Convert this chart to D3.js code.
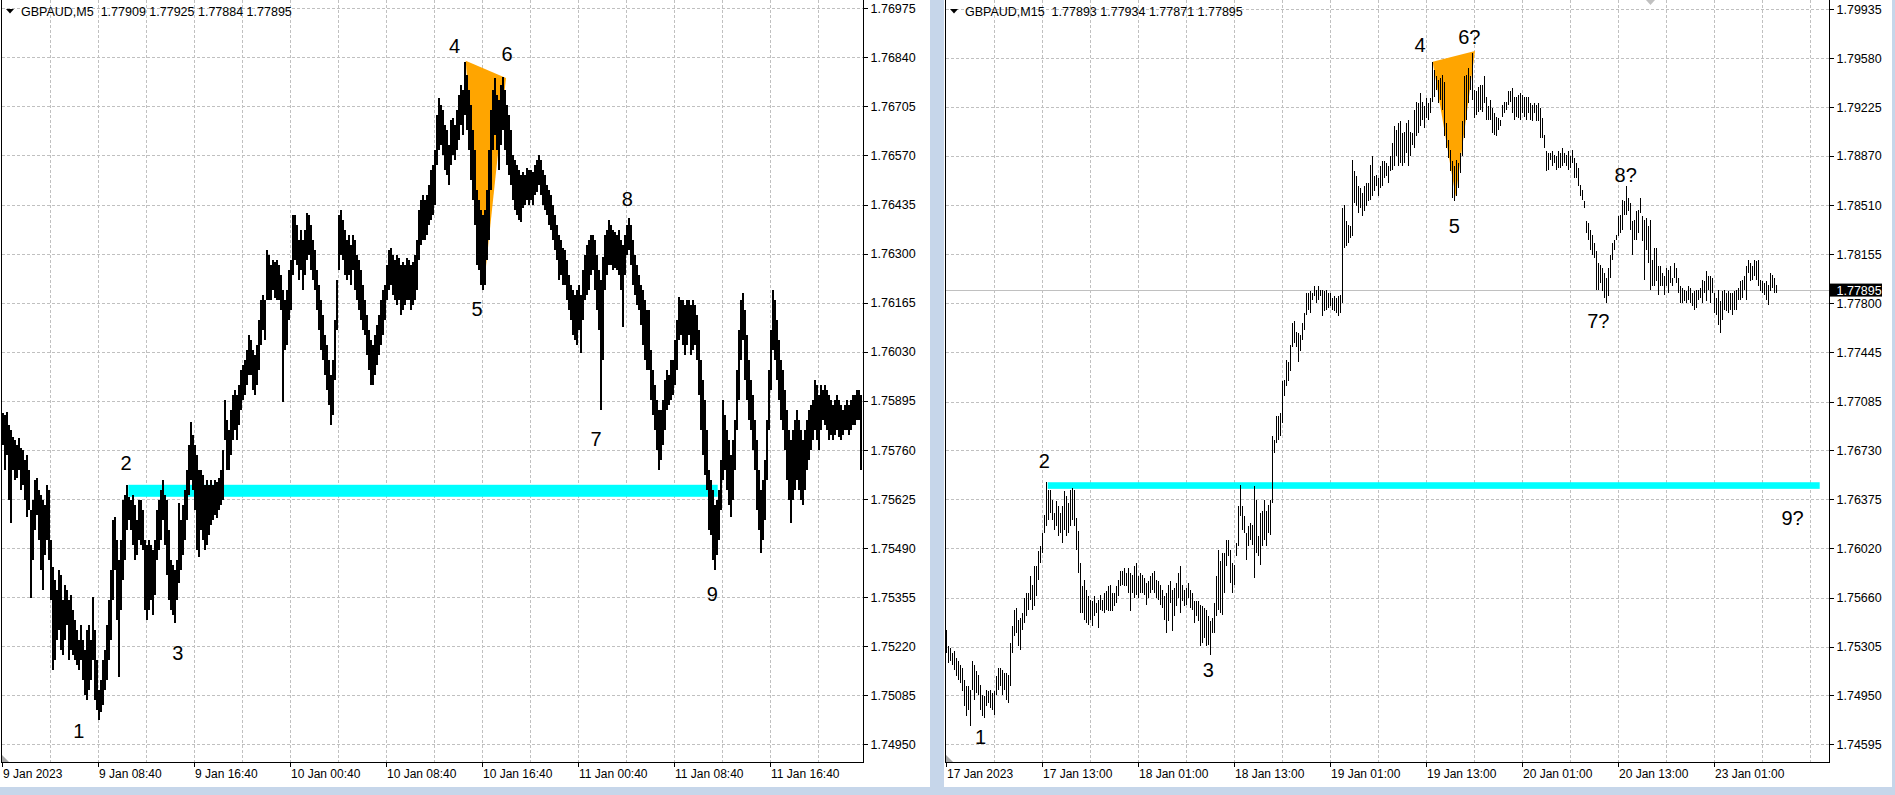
<!DOCTYPE html>
<html><head><meta charset="utf-8">
<script src="https://cdn.jsdelivr.net/npm/d3@7"></script>
<style>html,body{margin:0;padding:0;background:#c6d6ea;overflow:hidden}</style>
</head><body><svg id="c" width="1895" height="795"></svg>
<script>
// ---------- LEFT PANEL (GBPAUD M5, sampled bars) ----------
const m5High = [
1.75862,1.75856,1.75865,1.75829,1.75815,1.75796,1.75788,1.75774,1.75793,1.75766,1.75760,1.75733,1.75746,1.75705,1.75595,1.75623,1.75678,1.75683,1.75650,1.75636,1.75623,1.75609,1.75664,1.75650,
1.75513,1.75438,1.75403,1.75375,1.75430,1.75416,1.75348,1.75389,1.75375,1.75348,1.75361,1.75320,1.75293,1.75265,1.75238,1.75279,1.75238,1.75210,1.75265,1.75279,1.75238,1.75356,1.75265,1.75183,
1.75100,1.75128,1.75183,1.75210,1.75279,1.75348,1.75430,1.75568,1.75576,1.75513,1.75458,1.75513,1.75623,1.75636,1.75664,1.75631,1.75623,1.75636,1.75609,1.75568,1.75623,1.75623,1.75595,
1.75513,1.75499,1.75513,1.75499,1.75485,1.75513,1.75595,1.75623,1.75650,1.75678,1.75636,1.75623,1.75540,1.75458,1.75444,1.75430,1.75458,1.75614,1.75568,1.75609,1.75650,1.75705,1.75774,1.75837,1.75801,
1.75774,1.75746,1.75705,1.75705,1.75691,1.75664,1.75678,1.75664,1.75678,1.75664,1.75678,1.75672,1.75683,1.75705,1.75760,1.75898,1.75843,1.75815,1.75870,1.75911,1.75925,1.75911,1.75939,1.75980,
1.75994,1.76008,1.76035,1.76076,1.76063,1.76035,1.76021,1.76049,1.76118,1.76173,1.76186,1.76173,1.76310,1.76296,1.76269,1.76283,1.76277,1.76283,1.76269,1.76241,1.76200,1.76173,1.76200,1.76255,
1.76283,1.76406,1.76406,1.76379,1.76338,1.76365,1.76338,1.76365,1.76412,1.76406,1.76379,1.76338,1.76310,1.76255,1.76214,1.76173,1.76131,1.76076,1.76049,1.76008,1.75966,1.76008,1.76118,1.76228,
1.76406,1.76420,1.76393,1.76365,1.76338,1.76351,1.76324,1.76351,1.76338,1.76296,1.76283,1.76255,1.76214,1.76173,1.76131,1.76090,1.76063,1.76049,1.76076,1.76104,1.76131,1.76173,1.76200,1.76214,
1.76269,1.76310,1.76316,1.76296,1.76283,1.76296,1.76288,1.76269,1.76277,1.76269,1.76288,1.76283,1.76269,1.76277,1.76296,1.76338,1.76420,1.76448,1.76462,1.76448,1.76462,1.76489,1.76530,1.76544,
1.76585,1.76682,1.76728,1.76709,1.76695,1.76654,1.76640,1.76599,1.76668,1.76673,1.76654,1.76695,1.76737,1.76764,1.76750,1.76827,1.76792,1.76750,1.76709,1.76640,1.76585,1.76475,1.76448,1.76420,
1.76406,1.76420,1.76475,1.76585,1.76695,1.76750,1.76783,1.76737,1.76723,1.76764,1.76786,1.76750,1.76709,1.76682,1.76640,1.76572,1.76558,1.76544,1.76530,1.76517,1.76525,1.76517,1.76536,1.76530,
1.76530,1.76525,1.76544,1.76558,1.76572,1.76558,1.76530,1.76517,1.76489,1.76475,1.76462,1.76434,1.76406,1.76379,1.76351,1.76338,1.76316,1.76310,1.76283,1.76241,1.76214,1.76200,1.76186,1.76200,
1.76214,1.76186,1.76255,1.76296,1.76324,1.76338,1.76351,1.76351,1.76338,1.76296,1.76255,1.76228,1.76291,1.76351,1.76365,1.76393,1.76379,1.76365,1.76360,1.76351,1.76365,1.76338,1.76324,1.76351,
1.76379,1.76398,1.76379,1.76338,1.76296,1.76269,1.76241,1.76214,1.76200,1.76173,1.76145,1.76145,1.76035,1.75980,1.75939,1.75898,1.75870,1.75870,1.75898,1.75953,1.75980,1.75966,1.76008,1.76008,
1.76063,1.76118,1.76181,1.76173,1.76173,1.76159,1.76173,1.76173,1.76159,1.76173,1.76159,1.76131,1.76090,1.76008,1.75953,1.75898,1.75815,1.75705,1.75678,1.75650,1.75609,1.75623,1.75650,1.75733,
1.75898,1.75856,1.75815,1.75788,1.75746,1.75788,1.75843,1.75980,1.76090,1.76173,1.76192,1.76145,1.76076,1.76008,1.75953,1.75911,1.75843,1.75788,1.75705,1.75650,1.75678,1.75733,1.75843,1.75980,
1.76090,1.76200,1.76173,1.76118,1.76063,1.76008,1.75980,1.75925,1.75870,1.75815,1.75788,1.75815,1.75843,1.75870,1.75843,1.75815,1.75788,1.75815,1.75843,1.75870,1.75884,1.75898,1.75953,1.75939,
1.75911,1.75939,1.75925,1.75939,1.75925,1.75911,1.75898,1.75884,1.75898,1.75911,1.75898,1.75884,1.75870,1.75884,1.75898,1.75884,1.75898,1.75911,1.75911,1.75925,1.75925,1.75911];
const m5Low = [
1.75774,1.75705,1.75746,1.75623,1.75559,1.75705,1.75678,1.75683,1.75705,1.75650,1.75664,1.75623,1.75576,1.75595,1.75353,1.75458,1.75540,1.75581,1.75513,1.75430,1.75375,1.75471,1.75513,1.75458,
1.75348,1.75155,1.75183,1.75238,1.75265,1.75210,1.75196,1.75238,1.75279,1.75183,1.75210,1.75196,1.75183,1.75169,1.75155,1.75183,1.75128,1.75086,1.75073,1.75100,1.75128,1.75183,1.75073,1.75045,
1.75018,1.75039,1.75059,1.75100,1.75128,1.75183,1.75238,1.75348,1.75430,1.75293,1.75136,1.75320,1.75403,1.75458,1.75540,1.75568,1.75540,1.75499,1.75458,1.75471,1.75513,1.75499,1.75485,
1.75320,1.75293,1.75320,1.75348,1.75306,1.75361,1.75458,1.75485,1.75513,1.75568,1.75499,1.75416,1.75348,1.75320,1.75306,1.75284,1.75348,1.75394,1.75430,1.75471,1.75513,1.75568,1.75636,1.75678,1.75650,
1.75595,1.75485,1.75466,1.75540,1.75513,1.75485,1.75499,1.75526,1.75554,1.75568,1.75581,1.75573,1.75595,1.75609,1.75623,1.75788,1.75705,1.75705,1.75746,1.75788,1.75815,1.75788,1.75829,1.75870,
1.75898,1.75911,1.75939,1.75966,1.75966,1.75925,1.75911,1.75939,1.75980,1.76049,1.76090,1.76063,1.76173,1.76173,1.76173,1.76200,1.76178,1.76173,1.76173,1.76145,1.75892,1.76035,1.76049,1.76118,
1.76145,1.76241,1.76283,1.76269,1.76228,1.76255,1.76200,1.76241,1.76283,1.76296,1.76255,1.76228,1.76200,1.76145,1.76090,1.76035,1.76008,1.75966,1.75925,1.75884,1.75829,1.75856,1.75953,1.76090,
1.76255,1.76296,1.76283,1.76241,1.76228,1.76241,1.76214,1.76255,1.76200,1.76173,1.76145,1.76118,1.76090,1.76076,1.76021,1.75980,1.75939,1.75939,1.75966,1.75994,1.76021,1.76049,1.76076,1.76118,
1.76173,1.76200,1.76214,1.76186,1.76173,1.76159,1.76173,1.76131,1.76145,1.76159,1.76173,1.76173,1.76145,1.76159,1.76173,1.76200,1.76283,1.76324,1.76338,1.76338,1.76351,1.76379,1.76393,1.76406,
1.76434,1.76544,1.76585,1.76599,1.76572,1.76530,1.76517,1.76489,1.76544,1.76572,1.76558,1.76585,1.76613,1.76654,1.76627,1.76682,1.76640,1.76585,1.76503,1.76448,1.76379,1.76269,1.76255,1.76214,
1.76200,1.76214,1.76283,1.76338,1.76475,1.76585,1.76627,1.76585,1.76530,1.76599,1.76640,1.76585,1.76544,1.76517,1.76489,1.76448,1.76420,1.76406,1.76393,1.76387,1.76426,1.76434,1.76448,1.76434,
1.76448,1.76434,1.76462,1.76470,1.76489,1.76462,1.76434,1.76420,1.76406,1.76379,1.76365,1.76338,1.76310,1.76283,1.76228,1.76241,1.76214,1.76214,1.76173,1.76145,1.76118,1.76076,1.76063,1.76049,
1.76090,1.76027,1.76118,1.76173,1.76186,1.76200,1.76241,1.76255,1.76200,1.76145,1.76090,1.75870,1.76008,1.76200,1.76241,1.76269,1.76269,1.76255,1.76261,1.76255,1.76241,1.76200,1.76098,1.76241,
1.76296,1.76310,1.76269,1.76214,1.76186,1.76159,1.76145,1.76104,1.76049,1.76008,1.75980,1.75980,1.75898,1.75856,1.75815,1.75760,1.75705,1.75733,1.75774,1.75815,1.75870,1.75884,1.75898,1.75911,
1.75939,1.75980,1.76063,1.76076,1.76049,1.76021,1.76049,1.76076,1.76021,1.76035,1.76049,1.76008,1.75911,1.75815,1.75746,1.75691,1.75650,1.75540,1.75526,1.75458,1.75430,1.75471,1.75513,1.75595,
1.75678,1.75705,1.75650,1.75609,1.75576,1.75623,1.75705,1.75815,1.75898,1.76008,1.76063,1.75953,1.75898,1.75843,1.75815,1.75760,1.75705,1.75595,1.75540,1.75477,1.75513,1.75568,1.75678,1.75815,
1.75925,1.76035,1.76008,1.75953,1.75898,1.75843,1.75815,1.75760,1.75678,1.75623,1.75559,1.75623,1.75650,1.75678,1.75650,1.75623,1.75609,1.75650,1.75705,1.75733,1.75760,1.75788,1.75815,1.75788,
1.75760,1.75815,1.75843,1.75829,1.75815,1.75788,1.75801,1.75788,1.75801,1.75815,1.75796,1.75788,1.75801,1.75815,1.75815,1.75801,1.75815,1.75829,1.75829,1.75843,1.75843,1.75705];
const m5PriceTicks = [1.76975,1.76840,1.76705,1.76570,1.76435,1.76300,1.76165,1.76030,1.75895,1.75760,1.75625,1.75490,1.75355,1.75220,1.75085,1.74950];
const m5TimeLabels = ["9 Jan 2023","9 Jan 08:40","9 Jan 16:40","10 Jan 00:40","10 Jan 08:40","10 Jan 16:40","11 Jan 00:40","11 Jan 08:40","11 Jan 16:40"];
const m5Header = "GBPAUD,M5  1.77909 1.77925 1.77884 1.77895";
const m5Notes = [["1",38.05,1.74988],["2",61.65,1.75724],["3",87.5,1.75203],["4",225.9,1.76871],["5",237.15,1.76148],["6",252.15,1.76851],["7",296.65,1.75791],["8",312.3,1.76451],["9",354.8,1.75364]];
const m5Zone = [62.8, 357.5, 1.75664, 1.75631];           // bar from, bar to, price top, price bottom
const m5Triangle = [[231.5,1.76831],[251.65,1.76783],[240.4,1.76200]];

// ---------- RIGHT PANEL (GBPAUD M15) ----------
const m15High = [
1.75428,1.75307,1.75295,1.75259,1.75271,1.75223,1.75198,1.75174,1.75150,1.75065,
1.75017,1.75017,1.74993,1.75198,1.75174,1.75126,1.75102,1.75029,1.74956,1.74944,
1.74993,1.74981,1.74993,1.74968,1.74981,1.75089,1.75150,1.75150,1.75138,1.75114,
1.75114,1.75102,1.75331,1.75452,1.75573,1.75586,1.75501,1.75513,1.75549,1.75658,
1.75694,1.75694,1.75815,1.75755,1.75888,1.75888,1.75997,1.76033,1.76130,1.76263,
1.76498,1.76445,1.76445,1.76372,1.76275,1.76360,1.76324,1.76275,1.76324,1.76433,
1.76396,1.76348,1.76445,1.76457,1.76445,1.76239,1.76142,1.75912,1.75743,1.75791,
1.75719,1.75670,1.75646,1.75634,1.75670,1.75622,1.75646,1.75682,1.75646,1.75694,
1.75707,1.75743,1.75755,1.75694,1.75694,1.75743,1.75791,1.75852,1.75852,1.75876,
1.75840,1.75876,1.75840,1.75828,1.75888,1.75912,1.75815,1.75840,1.75828,1.75803,
1.75767,1.75779,1.75815,1.75840,1.75852,1.75791,1.75779,1.75755,1.75719,1.75670,
1.75694,1.75755,1.75779,1.75719,1.75731,1.75767,1.75840,1.75888,1.75755,1.75719,
1.75731,1.75767,1.75719,1.75694,1.75634,1.75634,1.75634,1.75610,1.75598,1.75586,
1.75573,1.75525,1.75489,1.75513,1.75622,1.75815,1.76009,1.75924,1.75985,1.75985,
1.76082,1.76082,1.76009,1.75912,1.75900,1.76057,1.76324,1.76481,1.76324,1.76251,
1.76130,1.76178,1.76203,1.76190,1.76469,1.76372,1.76106,1.76275,1.76287,1.76372,
1.76287,1.76336,1.76372,1.76832,1.76808,1.76977,1.76977,1.77001,1.77231,1.77243,
1.77388,1.77376,1.77497,1.77655,1.77667,1.77594,1.77582,1.77570,1.77655,1.77727,
1.77874,1.77874,1.77886,1.77874,1.77922,1.77898,1.77922,1.77898,1.77898,1.77886,
1.77898,1.77874,1.77874,1.77837,1.77849,1.77837,1.77849,1.77861,1.78491,1.78515,
1.78394,1.78370,1.78358,1.78842,1.78757,1.78721,1.78648,1.78636,1.78600,1.78648,
1.78672,1.78672,1.78805,1.78866,1.78721,1.78733,1.78709,1.78793,1.78830,1.78830,
1.78817,1.78793,1.78866,1.78963,1.79084,1.79059,1.79108,1.79120,1.79035,1.79047,
1.79108,1.79132,1.79047,1.79035,1.79205,1.79265,1.79253,1.79326,1.79265,1.79229,
1.79289,1.79253,1.79289,1.79555,1.79495,1.79447,1.79422,1.79435,1.79459,1.79410,
1.79108,1.78987,1.78914,1.78830,1.78793,1.78842,1.78817,1.78890,1.79120,1.79447,
1.79459,1.79507,1.79447,1.79616,1.79350,1.79338,1.79374,1.79386,1.79386,1.79447,
1.79301,1.79229,1.79277,1.79217,1.79180,1.79156,1.79144,1.79132,1.79241,1.79265,
1.79265,1.79338,1.79338,1.79362,1.79301,1.79301,1.79313,1.79326,1.79313,1.79301,
1.79301,1.79301,1.79253,1.79241,1.79253,1.79241,1.79253,1.79217,1.79144,1.79023,
1.78902,1.78890,1.78890,1.78902,1.78878,1.78866,1.78902,1.78890,1.78926,1.78890,
1.78878,1.78902,1.78866,1.78914,1.78854,1.78817,1.78781,1.78660,1.78624,1.78539,
1.78394,1.78382,1.78333,1.78297,1.78237,1.78176,1.78091,1.78079,1.78055,1.78019,
1.77983,1.78055,1.78152,1.78237,1.78261,1.78297,1.78430,1.78442,1.78551,1.78539,
1.78648,1.78563,1.78527,1.78394,1.78406,1.78467,1.78479,1.78563,1.78430,1.78406,
1.78418,1.78358,1.78406,1.78116,1.78200,1.78200,1.78067,1.78067,1.78019,1.77995,
1.78055,1.78043,1.78067,1.77983,1.78091,1.78055,
1.77982,1.77922,1.77910,1.77898,1.77886,1.77922,1.77910,1.77873,1.77886,1.77898,
1.77898,1.77910,1.77970,1.77958,1.78031,1.77994,1.77994,1.77982,1.77873,1.77837,
1.77898,1.77813,1.77886,1.77898,1.77873,1.77886,1.77873,1.77873,1.77886,1.77898,
1.77910,1.77958,1.77970,1.77994,1.78067,1.78115,1.78091,1.78067,1.78115,1.78103,
1.78115,1.77970,1.77958,1.77946,1.77958,1.77934,1.78019,1.78006,1.77982,1.77934];
const m15Low = [
1.75259,1.75186,1.75198,1.75174,1.75138,1.75089,1.75065,1.75041,1.74981,1.74872,
1.74799,1.74847,1.74726,1.74993,1.74920,1.74968,1.74956,1.74847,1.74799,1.74787,
1.74872,1.74896,1.74860,1.74847,1.74811,1.74956,1.74993,1.75017,1.74956,1.74993,
1.74920,1.74896,1.75017,1.75259,1.75380,1.75404,1.75307,1.75283,1.75428,1.75477,
1.75525,1.75573,1.75646,1.75573,1.75598,1.75670,1.75791,1.75912,1.75985,1.76130,
1.76178,1.76227,1.76275,1.76227,1.76154,1.76178,1.76106,1.76130,1.76057,1.76154,
1.76106,1.76130,1.76178,1.76227,1.76178,1.76009,1.75840,1.75549,1.75549,1.75501,
1.75477,1.75465,1.75501,1.75452,1.75525,1.75549,1.75440,1.75573,1.75561,1.75549,
1.75573,1.75561,1.75561,1.75561,1.75598,1.75622,1.75670,1.75743,1.75755,1.75743,
1.75743,1.75694,1.75561,1.75694,1.75658,1.75682,1.75658,1.75694,1.75694,1.75682,
1.75610,1.75658,1.75694,1.75719,1.75694,1.75658,1.75646,1.75610,1.75586,1.75501,
1.75404,1.75489,1.75622,1.75416,1.75525,1.75598,1.75658,1.75549,1.75634,1.75598,
1.75610,1.75658,1.75586,1.75573,1.75477,1.75525,1.75489,1.75307,1.75331,1.75368,
1.75307,1.75319,1.75247,1.75404,1.75404,1.75525,1.75573,1.75549,1.75537,1.75694,
1.75888,1.75961,1.75767,1.75694,1.75755,1.75961,1.76033,1.76251,1.76154,1.76130,
1.75936,1.76033,1.76082,1.76045,1.75803,1.75985,1.75961,1.75900,1.76033,1.76082,
1.76033,1.76130,1.76118,1.76348,1.76711,1.76783,1.76808,1.76832,1.76929,1.77122,
1.77195,1.77231,1.77304,1.77485,1.77509,1.77485,1.77376,1.77449,1.77534,1.77606,
1.77716,1.77753,1.77728,1.77825,1.77849,1.77801,1.77825,1.77849,1.77704,1.77741,
1.77753,1.77765,1.77777,1.77753,1.77741,1.77728,1.77704,1.77728,1.77800,1.78200,
1.78212,1.78237,1.78273,1.78285,1.78527,1.78503,1.78454,1.78491,1.78430,1.78466,
1.78503,1.78539,1.78551,1.78575,1.78612,1.78648,1.78575,1.78636,1.78648,1.78709,
1.78721,1.78672,1.78757,1.78769,1.78793,1.78866,1.78793,1.78817,1.78793,1.78817,
1.78890,1.78793,1.78866,1.78950,1.78926,1.79011,1.79035,1.79084,1.79132,1.79071,
1.79144,1.79132,1.79180,1.79265,1.79301,1.79350,1.79253,1.79277,1.79205,1.79011,
1.78926,1.78854,1.78757,1.78563,1.78539,1.78575,1.78636,1.78745,1.78866,1.78999,
1.79132,1.79253,1.79350,1.79277,1.79144,1.79168,1.79192,1.79205,1.79192,1.79253,
1.79132,1.79132,1.79132,1.79035,1.79023,1.79011,1.79059,1.79084,1.79156,1.79180,
1.79205,1.79241,1.79265,1.79180,1.79132,1.79156,1.79144,1.79132,1.79180,1.79156,
1.79132,1.79180,1.79132,1.79120,1.79180,1.79120,1.79120,1.78999,1.78999,1.78926,
1.78757,1.78769,1.78842,1.78793,1.78817,1.78769,1.78781,1.78781,1.78793,1.78817,
1.78793,1.78769,1.78781,1.78817,1.78709,1.78709,1.78648,1.78575,1.78551,1.78491,
1.78309,1.78261,1.78188,1.78152,1.78128,1.77898,1.77898,1.77946,1.77886,1.77837,
1.77801,1.77849,1.77983,1.78116,1.78188,1.78261,1.78285,1.78309,1.78333,1.78442,
1.78442,1.78467,1.78333,1.78152,1.78261,1.78261,1.78309,1.78454,1.78249,1.77970,
1.78188,1.78091,1.77898,1.77922,1.77922,1.77958,1.77861,1.77922,1.77922,1.77861,
1.77922,1.77874,1.77946,1.77922,1.77983,1.77946,
1.77873,1.77801,1.77801,1.77813,1.77801,1.77825,1.77801,1.77777,1.77752,1.77764,
1.77825,1.77837,1.77801,1.77873,1.77813,1.77898,1.77801,1.77873,1.77728,1.77716,
1.77644,1.77583,1.77680,1.77752,1.77740,1.77728,1.77752,1.77716,1.77752,1.77752,
1.77825,1.77825,1.77837,1.77898,1.77825,1.78019,1.77958,1.77970,1.77994,1.77970,
1.77922,1.77885,1.77873,1.77861,1.77825,1.77789,1.77885,1.77910,1.77873,1.77871];
const m15PriceTicks = [1.79935,1.79580,1.79225,1.78870,1.78510,1.78155,1.77800,1.77445,1.77085,1.76730,1.76375,1.76020,1.75660,1.75305,1.74950,1.74595];
const m15TimeLabels = ["17 Jan 2023","17 Jan 13:00","18 Jan 01:00","18 Jan 13:00","19 Jan 01:00","19 Jan 13:00","20 Jan 01:00","20 Jan 13:00","23 Jan 01:00"];
const m15Header = "GBPAUD,M15  1.77893 1.77934 1.77871 1.77895";
const m15Notes = [["1",16.9,1.74649],["2",48.8,1.76654],["3",130.8,1.75135],["4",236.65,1.79676],["5",253.8,1.78361],["6?",261.3,1.79734],["7?",325.8,1.77671],["8?",339.5,1.78734],["9?",422.95,1.76243]];
const m15Zone = [50.5, 436.5, 1.76499, 1.76451];
const m15Triangle = [[243,1.79554],[264.15,1.79632],[254.5,1.78574]];
const m15Last = 1.77895;

// ---------- DRAWING ----------
const FONT = "'Liberation Sans', Arial, sans-serif";
const svg = d3.select('#c');
svg.append('rect').attr('width',1895).attr('height',795).attr('fill','#c6d6ea');
svg.append('rect').attr('x',0).attr('y',0).attr('width',930).attr('height',787).attr('fill','#fff');
svg.append('rect').attr('x',944).attr('y',0).attr('width',948).attr('height',787).attr('fill','#fff');

function panel(o) {
  const g = svg.append('g');
  const x = o.x, y = o.y, axX = o.axisX, axY = o.axisY;
  const grid = '#c0c0c0';
  g.selectAll('line.hg').data(o.ticks).join('line')
    .attr('x1', o.left).attr('x2', axX).attr('y1', d => Math.round(y(d)) + 0.5).attr('y2', d => Math.round(y(d)) + 0.5)
    .attr('stroke', grid).attr('stroke-dasharray', '3,2').attr('shape-rendering','crispEdges');
  const vk = d3.range(1, 40).map(k => k * 24).filter(b => x(b) < axX - 2);
  g.selectAll('line.vg').data(vk).join('line')
    .attr('x1', d => Math.floor(x(d)) + 0.5).attr('x2', d => Math.floor(x(d)) + 0.5)
    .attr('y1', 0).attr('y2', axY)
    .attr('stroke', grid).attr('stroke-dasharray', '3,2').attr('shape-rendering','crispEdges');
  const z = o.zone;
  g.append('rect').attr('x', x(z[0])).attr('width', x(z[1]) - x(z[0]))
    .attr('y', y(z[2])).attr('height', y(z[3]) - y(z[2])).attr('fill', '#00ffff');
  g.append('path').attr('d', d3.line().x(d => x(d[0])).y(d => y(d[1]))(o.tri) + 'Z').attr('fill', '#ffa500');
  if (o.last) {
    g.append('line').attr('x1', o.left).attr('x2', axX).attr('y1', Math.round(y(o.last)) + 0.5).attr('y2', Math.round(y(o.last)) + 0.5)
      .attr('stroke', '#c0c0c0').attr('shape-rendering','crispEdges');
  }
  g.selectAll('rect.bar').data(o.high).join('rect')
    .attr('x', (d, i) => Math.floor(x(i))).attr('width', o.barW)
    .attr('y', d => y(d)).attr('height', (d, i) => Math.max(1, y(o.low[i]) - y(d)))
    .attr('fill', '#000').attr('shape-rendering', 'crispEdges');
  g.append('line').attr('x1', axX + 0.5).attr('x2', axX + 0.5).attr('y1', 0).attr('y2', axY + 1).attr('stroke', '#000').attr('shape-rendering','crispEdges');
  g.append('line').attr('x1', o.left - 1).attr('x2', axX + 1).attr('y1', axY + 0.5).attr('y2', axY + 0.5).attr('stroke', '#000').attr('shape-rendering','crispEdges');
  g.append('line').attr('x1', o.left - 0.5).attr('x2', o.left - 0.5).attr('y1', 0).attr('y2', axY + 1).attr('stroke', '#000').attr('shape-rendering','crispEdges');
  g.selectAll('line.pt').data(o.ticks).join('line')
    .attr('x1', axX + 1).attr('x2', axX + 5).attr('y1', d => Math.round(y(d)) + 0.5).attr('y2', d => Math.round(y(d)) + 0.5)
    .attr('stroke', '#000').attr('shape-rendering','crispEdges');
  g.selectAll('text.pl').data(o.ticks).join('text')
    .attr('x', axX + 7.5).attr('y', d => y(d) + 4.6).text(d => d3.format('.5f')(d))
    .attr('font-family', FONT).attr('font-size', '12.5px').attr('fill', '#000');
  const tl = o.times.map((t, k) => [t, k * 48]);
  g.selectAll('line.tt').data(tl).join('line')
    .attr('x1', d => Math.floor(x(d[1])) + 0.5).attr('x2', d => Math.floor(x(d[1])) + 0.5)
    .attr('y1', axY + 1).attr('y2', axY + 5).attr('stroke', '#000').attr('shape-rendering','crispEdges');
  g.selectAll('text.tl').data(tl).join('text')
    .attr('x', d => Math.floor(x(d[1])) + 1).attr('y', axY + 15.5).text(d => d[0])
    .attr('font-family', FONT).attr('font-size', '12px').attr('fill', '#000');
  g.selectAll('text.nt').data(o.notes).join('text')
    .attr('x', d => x(d[1])).attr('y', d => y(d[2]) + 7.2).attr('text-anchor', 'middle')
    .text(d => d[0]).attr('font-family', FONT).attr('font-size', '20px').attr('fill', '#000');
  const hx = o.left + 4;
  g.append('path').attr('d', `M${hx},9 L${hx + 8},9 L${hx + 4},13.5 Z`).attr('fill', '#000');
  g.append('text').attr('x', hx + 15).attr('y', 15.5).text(o.header)
    .attr('font-family', FONT).attr('font-size', '12.5px').attr('fill', '#000').style('white-space', 'pre');
  g.append('path').attr('d', `M${o.left},${axY - 7} L${o.left},${axY} L${o.left + 7},${axY} Z`).attr('fill', '#a8a8a8');
  if (o.last) {
    const ly = y(o.last);
    g.append('rect').attr('x', axX + 1).attr('y', ly - 6.5).attr('width', 52).attr('height', 13).attr('fill', '#000');
    g.append('text').attr('x', axX + 7.5).attr('y', ly + 4.6).text(d3.format('.5f')(o.last))
      .attr('font-family', FONT).attr('font-size', '12.5px').attr('fill', '#fff');
  }
}

panel({
  x: d3.scaleLinear().domain([0, 430]).range([2.7, 862.7]),
  y: d3.scaleLinear().domain([1.74950, 1.76975]).range([744.3, 8.3]),
  high: m5High, low: m5Low, barW: 2, left: 2, axisX: 863, axisY: 762,
  ticks: m5PriceTicks, times: m5TimeLabels, notes: m5Notes, zone: m5Zone, tri: m5Triangle,
  header: m5Header, last: null
});
panel({
  x: d3.scaleLinear().domain([0, 416]).range([946.7, 1778.7]),
  y: d3.scaleLinear().domain([1.74595, 1.79935]).range([744.3, 9.3]),
  high: m15High, low: m15Low, barW: 1, left: 946, axisX: 1829, axisY: 762,
  ticks: m15PriceTicks, times: m15TimeLabels, notes: m15Notes, zone: m15Zone, tri: m15Triangle,
  header: m15Header, last: m15Last
});
svg.append('path').attr('d', 'M1646,0 L1655,0 L1650.5,5 Z').attr('fill', '#c0c0c0');
</script>
</body></html>
